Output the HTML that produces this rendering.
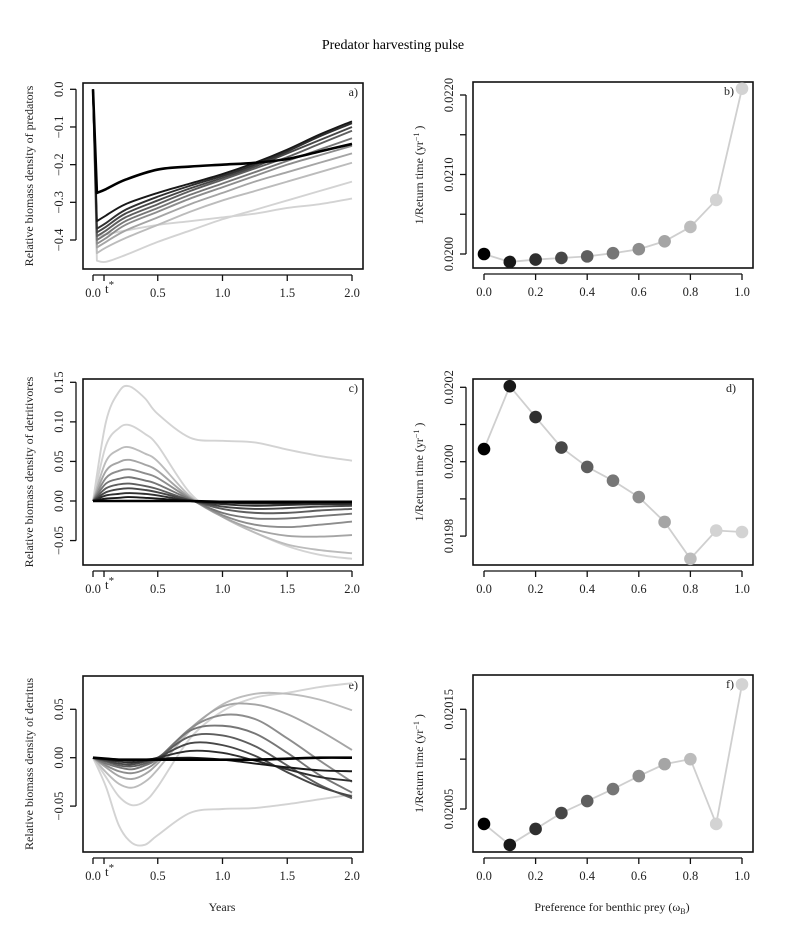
<!DOCTYPE html>
<html><head><meta charset="utf-8">
<style>
html,body{margin:0;padding:0;background:#fff;}
svg{display:block;font-family:"Liberation Serif",serif;}
</style></head>
<body>
<svg id="fig" width="785" height="943" viewBox="0 0 785 943" xmlns="http://www.w3.org/2000/svg">
<text x="393" y="49" font-size="14" text-anchor="middle">Predator harvesting pulse</text>
</svg>
<script>
// ---------- data ----------
const timesA = [0, 0.03, 0.1, 0.25, 0.5, 0.75, 1.0, 1.25, 1.5, 1.75, 2.0];
const seriesA = [
 [0,-0.275,-0.265,-0.24,-0.213,-0.205,-0.2,-0.195,-0.185,-0.165,-0.145],
 [0,-0.35,-0.335,-0.305,-0.275,-0.25,-0.225,-0.195,-0.16,-0.12,-0.085],
 [0,-0.37,-0.355,-0.32,-0.285,-0.256,-0.23,-0.2,-0.165,-0.125,-0.09],
 [0,-0.38,-0.365,-0.33,-0.295,-0.263,-0.235,-0.205,-0.17,-0.135,-0.1],
 [0,-0.39,-0.375,-0.34,-0.305,-0.27,-0.24,-0.21,-0.18,-0.145,-0.11],
 [0,-0.40,-0.385,-0.35,-0.315,-0.28,-0.25,-0.22,-0.19,-0.16,-0.13],
 [0,-0.41,-0.395,-0.36,-0.325,-0.29,-0.26,-0.23,-0.2,-0.175,-0.15],
 [0,-0.42,-0.405,-0.375,-0.34,-0.305,-0.275,-0.245,-0.22,-0.195,-0.17],
 [0,-0.435,-0.42,-0.395,-0.36,-0.325,-0.295,-0.27,-0.245,-0.22,-0.195],
 [0,-0.455,-0.458,-0.44,-0.405,-0.375,-0.345,-0.32,-0.295,-0.27,-0.245],
 [0,-0.39,-0.385,-0.375,-0.36,-0.35,-0.34,-0.33,-0.315,-0.305,-0.29]
];
const timesC = [0, 0.1, 0.2, 0.28, 0.4, 0.5, 0.75, 1.0, 1.25, 1.5, 1.75, 2.0];
const seriesC = [
 [0,0,0,0,0,0,0,-0.001,-0.001,-0.001,-0.001,-0.001],
 [0,0.003,0.004,0.005,0.004,0.003,0,-0.002,-0.003,-0.003,-0.002,-0.002],
 [0,0.007,0.009,0.010,0.009,0.007,0,-0.004,-0.006,-0.005,-0.004,-0.004],
 [0,0.011,0.015,0.016,0.014,0.011,0.001,-0.007,-0.01,-0.009,-0.007,-0.006],
 [0,0.016,0.021,0.022,0.019,0.015,0.001,-0.01,-0.015,-0.015,-0.012,-0.01],
 [0,0.022,0.028,0.030,0.026,0.021,0.002,-0.015,-0.022,-0.022,-0.019,-0.016],
 [0,0.029,0.038,0.040,0.035,0.029,0.003,-0.018,-0.03,-0.033,-0.03,-0.026],
 [0,0.038,0.049,0.052,0.046,0.038,0.004,-0.02,-0.036,-0.044,-0.045,-0.043],
 [0,0.05,0.065,0.068,0.06,0.05,0.006,-0.02,-0.04,-0.055,-0.062,-0.066],
 [0,0.07,0.092,0.096,0.085,0.07,0.01,-0.02,-0.04,-0.057,-0.068,-0.073],
 [0,0.1,0.138,0.145,0.13,0.11,0.08,0.076,0.074,0.065,0.057,0.051]
];
const timesE = [0, 0.1, 0.2, 0.3, 0.4, 0.5, 0.75, 1.0, 1.25, 1.5, 1.75, 2.0];
const seriesE = [
 [0,-0.001,-0.002,-0.002,-0.002,-0.002,-0.002,-0.002,-0.002,-0.001,0,0],
 [0,-0.001,-0.002,-0.003,-0.002,-0.001,0,-0.002,-0.006,-0.01,-0.013,-0.014],
 [0,-0.002,-0.004,-0.005,-0.003,0,0.007,0.005,-0.003,-0.012,-0.02,-0.024],
 [0,-0.003,-0.006,-0.007,-0.004,0,0.015,0.013,0.002,-0.015,-0.03,-0.04],
 [0,-0.004,-0.008,-0.009,-0.006,0,0.022,0.023,0.012,-0.008,-0.028,-0.042],
 [0,-0.006,-0.01,-0.012,-0.008,-0.001,0.028,0.033,0.025,0.005,-0.018,-0.036],
 [0,-0.008,-0.014,-0.016,-0.012,-0.003,0.03,0.044,0.04,0.02,-0.003,-0.025],
 [0,-0.01,-0.019,-0.022,-0.017,-0.006,0.03,0.053,0.055,0.045,0.028,0.008],
 [0,-0.015,-0.027,-0.031,-0.025,-0.012,0.028,0.055,0.066,0.066,0.06,0.049],
 [0,-0.02,-0.04,-0.049,-0.045,-0.03,0.02,0.048,0.062,0.067,0.073,0.077],
 [0,-0.03,-0.07,-0.088,-0.09,-0.08,-0.057,-0.053,-0.052,-0.048,-0.043,-0.038]
];
const omegas = [0,0.1,0.2,0.3,0.4,0.5,0.6,0.7,0.8,0.9,1.0];
const rateB = [0.02000,0.01990,0.01993,0.01995,0.01997,0.02001,0.02006,0.02016,0.02034,0.02068,0.02208];
const rateD = [0.020034,0.020203,0.02012,0.020038,0.019986,0.019949,0.019905,0.019838,0.019739,0.019815,0.019811];
const rateF = [0.020035,0.020014,0.02003,0.020046,0.020058,0.02007,0.020083,0.020095,0.0201,0.020035,0.020175];
const ticksTime = [0, 0.5, 1.0, 1.5, 2.0];
const tickLabelsTime = ["0.0","0.5","1.0","1.5","2.0"];
const ticksOmega = [0,0.2,0.4,0.6,0.8,1.0];
const tickLabelsOmega = ["0.0","0.2","0.4","0.6","0.8","1.0"];
const ticksYA = [0,-0.1,-0.2,-0.3,-0.4];
const tickLabelsYA = ["0.0","-0.1","-0.2","-0.3","-0.4"];
const ticksYC = [0.15,0.10,0.05,0,-0.05];
const tickLabelsYC = ["0.15","0.10","0.05","0.00","-0.05"];
const ticksYE = [0.05,0,-0.05];
const tickLabelsYE = ["0.05","0.00","-0.05"];
const ticksYB = [0.0200,0.0205,0.0210,0.0215,0.0220];
const tickLabelsYB = ["0.0200","","0.0210","","0.0220"];
const ticksYD = [0.0198,0.0199,0.0200,0.0201,0.0202];
const tickLabelsYD = ["0.0198","","0.0200","","0.0202"];
const ticksYF = [0.02005,0.02010,0.02015];
const tickLabelsYF = ["0.02005","","0.02015"];
const tStar = 0.085;

// ---------- drawing ----------
const NS = "http://www.w3.org/2000/svg";
const svg = document.getElementById("fig");
function mk(tag, attrs, parent){ const e=document.createElementNS(NS,tag); for(const k in attrs) e.setAttribute(k,attrs[k]); (parent||svg).appendChild(e); return e; }
function grey(i){ const v=Math.min(211, Math.round(i*23.5)); return `rgb(${v},${v},${v})`; }
function lin(d0,d1,r0,r1){ return v => r0 + (v-d0)/(d1-d0)*(r1-r0); }
function smoothPath(pts, firstLinear){
  let d = `M${pts[0][0].toFixed(2)},${pts[0][1].toFixed(2)}`;
  let start = 0;
  if(firstLinear){ d += `L${pts[1][0].toFixed(2)},${pts[1][1].toFixed(2)}`; start = 1; }
  for(let i=start;i<pts.length-1;i++){
    const p0 = pts[Math.max(start,i-1)], p1=pts[i], p2=pts[i+1], p3=pts[Math.min(pts.length-1,i+2)];
    const c1=[p1[0]+(p2[0]-p0[0])/6, p1[1]+(p2[1]-p0[1])/6];
    const c2=[p2[0]-(p3[0]-p1[0])/6, p2[1]-(p3[1]-p1[1])/6];
    d += `C${c1[0].toFixed(2)},${c1[1].toFixed(2)} ${c2[0].toFixed(2)},${c2[1].toFixed(2)} ${p2[0].toFixed(2)},${p2[1].toFixed(2)}`;
  }
  return d;
}

function axes(p){
  const g = mk("g",{});
  
  
  const box = mk("rect",{x:p.L,y:p.T,width:p.R-p.L,height:p.B-p.T,fill:"none",stroke:"#111","stroke-width":1.6},g);
  
  
  const xa = mk("g",{},g);
  
  
  const x0=p.X(p.xt[0]), x1=p.X(p.xt[p.xt.length-1]);
  mk("line",{x1:x0,x2:x1,y1:p.B+6,y2:p.B+6,stroke:"#111","stroke-width":1.3},xa);
  p.xt.forEach((v,i)=>{
    const x=p.X(v);
    mk("line",{x1:x,x2:x,y1:p.B+6,y2:p.B+12,stroke:"#111","stroke-width":1.3},xa);
    const t=mk("text",{x:x,y:p.B+28,"font-size":12.5,"text-anchor":"middle",fill:"#222"},xa);
    t.textContent=p.xl[i];
    
    
  });
  if(p.tstar){
    const x=p.X(tStar);
    mk("line",{x1:x,x2:x,y1:p.B+6,y2:p.B+12,stroke:"#111","stroke-width":1.3},xa);
    const t=mk("text",{x:x+1,y:p.B+24,"font-size":13,fill:"#222"},xa);
    t.innerHTML='t<tspan dy="-5" font-size="11">*</tspan>';
    
    
  }
  const ya = mk("g",{},g);
  
  
  const ys=p.yt.map(p.Y);
  mk("line",{x1:p.L-7,x2:p.L-7,y1:Math.min(...ys),y2:Math.max(...ys),stroke:"#111","stroke-width":1.3},ya);
  p.yt.forEach((v,i)=>{
    const y=p.Y(v);
    mk("line",{x1:p.L-13,x2:p.L-7,y1:y,y2:y,stroke:"#111","stroke-width":1.3},ya);
    if(p.yl[i]){
      const t=mk("text",{x:p.L-20,y:y,"font-size":12.5,"text-anchor":"middle",fill:"#222",transform:`rotate(-90 ${p.L-20} ${y})`},ya);
      t.textContent=p.yl[i].replace("-","\u2212");
      
      
    }
  });
  const yt=mk("text",{x:p.ytx,y:(p.T+p.B)/2,"font-size":12,"text-anchor":"middle",fill:"#222",transform:`rotate(-90 ${p.ytx} ${(p.T+p.B)/2})`},g);
  yt.innerHTML=p.ytitle;
  
  
  const pl=mk("text",{x:p.labelX,y:p.T+13,"font-size":12,"text-anchor":"end",fill:"#222"},g);
  pl.textContent=p.label;
  
  
  return g;
}

function linePanel(p, times, series, firstLinear){
  const g=axes(p);
  for(let i=series.length-1;i>=0;i--){
    const pts=times.map((t,k)=>[p.X(t),p.Y(series[i][k])]);
    const path=mk("path",{d:smoothPath(pts,firstLinear),fill:"none",stroke:grey(i),"stroke-width":i===0?2.6:1.9,"stroke-linejoin":"round"},g);
    
    
  }
}
function pointPanel(p, vals){
  const g=axes(p);
  const pts=omegas.map((o,i)=>[p.X(o),p.Y(vals[i])]);
  const pl=mk("polyline",{points:pts.map(q=>q.join(",")).join(" "),fill:"none",stroke:"#cfcfcf","stroke-width":1.8},g);
  
  
  pts.forEach((q,i)=>{
    const c=mk("circle",{cx:q[0],cy:q[1],r:6.3,fill:grey(i)},g);
    
    
  });
}

const lx=lin(0,2,93,352), rx=lin(0,1,484,742);
const yTitleR='1/Return time  (yr<tspan dy="-4" font-size="8">\u22121</tspan><tspan dy="4"> )</tspan>';

linePanel({name:"panel-a",L:83,R:363,T:83,B:269,X:lx,Y:lin(0,-0.4,89.3,240),xt:ticksTime,xl:tickLabelsTime,yt:ticksYA,yl:tickLabelsYA,tstar:true,ytx:33,ytitle:"Relative biomass density of predators",label:"a)",labelX:358}, timesA, seriesA, true);
pointPanel({name:"panel-b",L:473,R:753,T:82,B:268,X:rx,Y:lin(0.0200,0.0220,254,95),xt:ticksOmega,xl:tickLabelsOmega,yt:ticksYB,yl:tickLabelsYB,ytx:423,ytitle:yTitleR,label:"b)",labelX:734}, rateB);
linePanel({name:"panel-c",L:83,R:363,T:379,B:565,X:lx,Y:lin(0,0.15,501,382.3),xt:ticksTime,xl:tickLabelsTime,yt:ticksYC,yl:tickLabelsYC,tstar:true,ytx:33,ytitle:"Relative biomass density of detritivores",label:"c)",labelX:358}, timesC, seriesC, false);
pointPanel({name:"panel-d",L:473,R:753,T:379,B:565,X:rx,Y:lin(0.0200,0.0202,461.7,387.3),xt:ticksOmega,xl:tickLabelsOmega,yt:ticksYD,yl:tickLabelsYD,ytx:423,ytitle:yTitleR,label:"d)",labelX:736}, rateD);
linePanel({name:"panel-e",L:83,R:363,T:676,B:852,X:lx,Y:lin(0,0.05,757.7,709.3),xt:ticksTime,xl:tickLabelsTime,yt:ticksYE,yl:tickLabelsYE,tstar:true,ytx:33,ytitle:"Relative biomass density of detritus",label:"e)",labelX:358}, timesE, seriesE, false);
pointPanel({name:"panel-f",L:473,R:753,T:675,B:852,X:rx,Y:lin(0.02005,0.02015,809,709.3),xt:ticksOmega,xl:tickLabelsOmega,yt:ticksYF,yl:tickLabelsYF,ytx:423,ytitle:yTitleR,label:"f)",labelX:734}, rateF);

const xtl=mk("text",{x:222,y:911,"font-size":12,"text-anchor":"middle",fill:"#222"});
xtl.textContent="Years";


const xtr=mk("text",{x:612,y:911,"font-size":12,"text-anchor":"middle",fill:"#222"});
xtr.innerHTML='Preference for benthic prey (\u03C9<tspan dy="3" font-size="8">B</tspan><tspan dy="-3">)</tspan>';


</script>
</body></html>
